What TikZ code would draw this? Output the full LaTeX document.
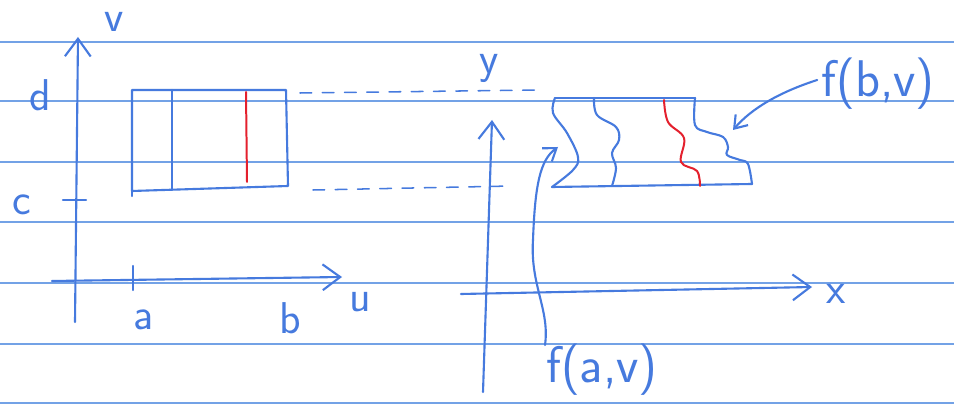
\documentclass[tikz,border=0pt]{standalone}
\usetikzlibrary{arrows.meta}
\definecolor{ink}{RGB}{70,122,222}
\definecolor{rulecol}{RGB}{115,162,230}
\definecolor{redink}{RGB}{228,32,45}
\begin{document}
\begin{tikzpicture}[x=0.03cm,y=-0.03cm,
  pen/.style={draw=ink,line width=1.8pt,line cap=round,line join=round},
  redpen/.style={draw=redink,line width=1.7pt,line cap=round},
  ruled/.style={draw=rulecol,line width=0.9pt},
  dashpen/.style={pen,line width=1.3pt,dash pattern=on 10pt off 9pt},
  lbl/.style={text=ink,font=\sffamily\fontsize{38}{38}\selectfont,inner sep=0pt},
  flbl/.style={text=ink,font=\sffamily\fontsize{44}{44}\selectfont,inner sep=0pt},
  bigbarb/.style={-{Straight Barb[length=15pt,width=22pt]}},
  smallbarb/.style={-{Straight Barb[length=10pt,width=14pt]}}]
\useasboundingbox (0,0) rectangle (954,405);
\fill[white] (0,0) rectangle (954,405);
% ruled paper
\foreach \yy in {42,101,162,222,283,344,403}
  \draw[ruled] (0,\yy) -- (954,\yy);

% ---------- left: (u,v) plane ----------
\coordinate (vb) at (75,322);
\coordinate (vt) at (78,37);
\coordinate (ul) at (52,281);
\coordinate (ur) at (342,277);
\draw[pen,bigbarb] (vb) -- (vt);
\draw[pen,bigbarb] (ul) -- (ur);
\coordinate (ta1) at (133,266); \coordinate (ta2) at (133,290);
\draw[pen] (ta1) -- (ta2);
\coordinate (tc1) at (63,200); \coordinate (tc2) at (86,200);
\draw[pen] (tc1) -- (tc2);

\node[lbl,anchor=base] (lv) at (114,32) {v};
\node[lbl] (ld) at (40,95) {d};
\node[lbl] (lc) at (22,205) {c};
\node[lbl] (la) at (144,320) {a};
\node[lbl] (lb) at (290,318) {b};
\node[lbl] (lu) at (360,302) {u};

% rectangle
\coordinate (r1) at (132,90);
\coordinate (r2) at (286,90);
\coordinate (r3) at (288,186);
\coordinate (r4) at (132,191);
\draw[pen] (r1) -- (r2) -- (r3) -- (r4) -- cycle;
\draw[pen] (r4) -- (132,196);
\draw[pen] (172,90) -- (172,189);
\draw[redpen] (246,92) -- (247,182);

% dashed guides
\draw[dashpen] (300,93) -- (540,90);
\draw[dashpen] (313,190) -- (512,186);

% ---------- right: (x,y) plane ----------
\coordinate (yb) at (483,392);
\coordinate (yt) at (492,120);
\coordinate (xl) at (461,294);
\coordinate (xr) at (812,287);
\draw[pen,bigbarb] (yb) -- (yt);
\draw[pen,bigbarb] (xl) -- (xr);
\node[lbl] (ly) at (489,68) {y};
\node[lbl] (lx) at (836,294) {x};

% image region
\coordinate (s1) at (555,98);
\coordinate (s2) at (695,98);
\coordinate (s3) at (752,184);
\coordinate (s4) at (552,187);
\draw[pen] (s1) -- (s2);
\draw[pen] (s4) -- (s3);
\draw[pen] plot[smooth,tension=0.6] coordinates {(555,98) (553,113) (567,133) (578,157) (573,170) (552,187)};
\draw[pen] plot[smooth,tension=0.6] coordinates {(695,98) (695,125) (707,132) (723,137) (728,147) (727,155) (740,160) (748,164) (752,184)};
\draw[pen] plot[smooth,tension=0.6] coordinates {(594,98) (597,115) (616,127) (619,140) (612,153) (616,168) (612,186)};
\draw[redpen] plot[smooth,tension=0.6] coordinates {(664,100) (668,122) (684,138) (681,162) (697,171) (700,186)};

% labels with arrows
\node[flbl] (fbv) at (878,84) {f(b,v)};
\node[flbl] (fav) at (602,370) {f(a,v)};
\coordinate (fbvtip) at (733,130);
\coordinate (favtip) at (558,147);
\draw[pen,smallbarb] (fbv.west) ++(-4,-4) .. controls (780,92) and (752,108) .. (fbvtip);
\draw[pen,smallbarb] (545,345) .. controls (550,310) and (530,285) .. (533,240) .. controls (535,185) and (540,160) .. (favtip);
\end{tikzpicture}
\end{document}
